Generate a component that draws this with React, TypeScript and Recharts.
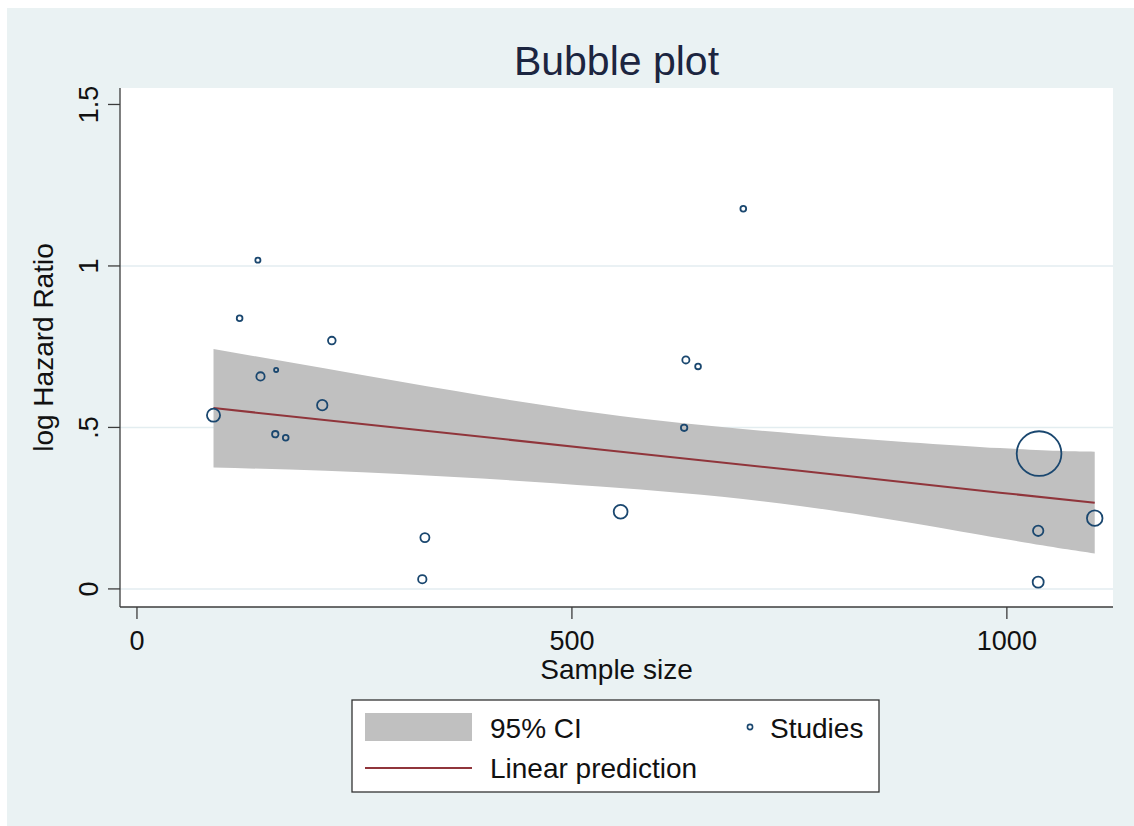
import {
  Area,
  CartesianGrid,
  ComposedChart,
  Line,
  Scatter,
  XAxis,
  YAxis,
  ZAxis,
} from "recharts";

// studies: sample size, log hazard ratio, meta-regression weight
const sampleSize = [88, 118, 139, 142, 159, 160, 171, 213, 224, 328, 331, 556, 629, 631, 645, 697, 1036, 1036, 1037, 1101];
const logHazardRatio = [0.538, 0.838, 1.018, 0.658, 0.479, 0.678, 0.468, 0.569, 0.769, 0.03, 0.159, 0.239, 0.499, 0.709, 0.689, 1.177, 0.021, 0.18, 0.419, 0.219];
const studyWeight = [44, 8.4, 6.8, 17.6, 10.6, 4.4, 8.4, 27.6, 15, 18, 21, 49, 10.6, 13, 8.4, 8.4, 31, 27.6, 511, 62];

// fitted line and its 95% band
const fitSize = [88, 302, 532, 762, 992, 1101];
const fitted = [0.56, 0.498, 0.432, 0.366, 0.298, 0.267];
const ciLow = [0.376, 0.356, 0.317, 0.257, 0.157, 0.11];
const ciHigh = [0.743, 0.642, 0.544, 0.48, 0.436, 0.425];

const xTicks = [0, 500, 1000];
const yTicks = [0, 0.5, 1, 1.5];
const yTickLabels = ["0", ".5", "1", "1.5"];
const gridValues = [0, 0.5, 1];
const seriesNames = ["95% CI", "Studies", "Linear prediction"];

const FONT = '"Liberation Sans", Arial, sans-serif';
const NAVY = "#1a476f";
const MAROON = "#90353b";
const CI_GREY = "#c0c0c0";
const AXIS = "#3c3c3c";

const studies = sampleSize.map((x, i) => ({ x, y: logHazardRatio[i], w: studyWeight[i] }));
const band = fitSize.map((x, i) => ({ x, fit: fitted[i], ci: [ciLow[i], ciHigh[i]] }));

const Bubble = (props: any) => {
  const r = Math.sqrt((props.size ?? 0) / Math.PI);
  return <circle cx={props.cx} cy={props.cy} r={r} fill="none" stroke={NAVY} strokeWidth={1.8} />;
};

const XTick = ({ x, y, payload }: any) => (
  <text x={x} y={y} dy="0.71em" textAnchor="middle" fontFamily={FONT} fontSize={27} fill="#111">
    {payload.value}
  </text>
);

const YTick = ({ x, y, payload }: any) => (
  <text
    x={x}
    y={y}
    textAnchor="middle"
    transform={`rotate(-90, ${x}, ${y})`}
    fontFamily={FONT}
    fontSize={27}
    fill="#111"
  >
    {yTickLabels[yTicks.indexOf(payload.value)]}
  </text>
);

function LegendBox() {
  return (
    <svg width={1134} height={826} style={{ position: "absolute", left: 0, top: 0, pointerEvents: "none" }}>
      <rect x={352} y={700} width={527} height={92} fill="#fff" stroke="#333" strokeWidth={1.3} />
      <rect x={365} y={713} width={107} height={28} fill={CI_GREY} />
      <text x={490} y={738} fontFamily={FONT} fontSize={28} fill="#111">{seriesNames[0]}</text>
      <circle cx={750} cy={727} r={2.6} fill="none" stroke={NAVY} strokeWidth={1.6} />
      <text x={770} y={738} fontFamily={FONT} fontSize={28} fill="#111">{seriesNames[1]}</text>
      <line x1={365} x2={472} y1={768} y2={768} stroke={MAROON} strokeWidth={2} />
      <text x={490} y={778} fontFamily={FONT} fontSize={28} fill="#111">{seriesNames[2]}</text>
    </svg>
  );
}

export default function App() {
  return (
    <div style={{ position: "absolute", left: 0, top: 0, width: 1134, height: 826, background: "#fff" }}>
      <div style={{ position: "absolute", left: 7, top: 8, right: 0, bottom: 0, background: "#eaf2f3" }} />
      <svg width={1134} height={100} style={{ position: "absolute", left: 0, top: 0 }}>
        <text x={616.5} y={75} textAnchor="middle" fontFamily={FONT} fontSize={41} fill="#1c2540">
          Bubble plot
        </text>
      </svg>
      <div style={{ position: "absolute", left: 0, top: 0 }}>
        <ComposedChart
          width={1134}
          height={826}
          data={band}
          margin={{ top: 88, right: 21, bottom: 119, left: 0 }}
        >
          <CartesianGrid
            fill="#fff"
            vertical={false}
            horizontalValues={gridValues}
            stroke="#e3edf0"
            strokeWidth={1.5}
          />
          <XAxis
            type="number"
            dataKey="x"
            domain={[-19.5, 1122]}
            allowDataOverflow
            ticks={xTicks}
            height={100}
            tickSize={12}
            tickMargin={12}
            axisLine={{ stroke: AXIS, strokeWidth: 1.3 }}
            tickLine={{ stroke: AXIS, strokeWidth: 1.3 }}
            tick={<XTick />}
            label={{
              content: ({ viewBox }: any) => (
                <text
                  x={viewBox.x + viewBox.width / 2}
                  y={viewBox.y + 72}
                  textAnchor="middle"
                  fontFamily={FONT}
                  fontSize={28}
                  fill="#111"
                >
                  Sample size
                </text>
              ),
            }}
          />
          <YAxis
            type="number"
            domain={[-0.056, 1.551]}
            allowDataOverflow
            ticks={yTicks}
            width={120}
            tickSize={12}
            tickMargin={9.5}
            axisLine={{ stroke: AXIS, strokeWidth: 1.3 }}
            tickLine={{ stroke: AXIS, strokeWidth: 1.3 }}
            tick={<YTick />}
            label={{
              content: ({ viewBox }: any) => {
                const cx = viewBox.x + 53;
                const cy = viewBox.y + viewBox.height / 2;
                return (
                  <text
                    x={cx}
                    y={cy}
                    textAnchor="middle"
                    transform={`rotate(-90, ${cx}, ${cy})`}
                    fontFamily={FONT}
                    fontSize={28}
                    fill="#111"
                  >
                    log Hazard Ratio
                  </text>
                );
              },
            }}
          />
          <ZAxis type="number" dataKey="w" domain={[0, 500]} range={[0, 500 * Math.PI]} />
          <Area
            type="natural"
            dataKey="ci"
            stroke="none"
            fill={CI_GREY}
            fillOpacity={1}
            isAnimationActive={false}
          />
          <Line
            type="linear"
            dataKey="fit"
            stroke={MAROON}
            strokeWidth={2}
            dot={false}
            activeDot={false}
            isAnimationActive={false}
          />
          <Scatter data={studies} dataKey="y" shape={<Bubble />} isAnimationActive={false} />
        </ComposedChart>
      </div>
      <LegendBox />
    </div>
  );
}
